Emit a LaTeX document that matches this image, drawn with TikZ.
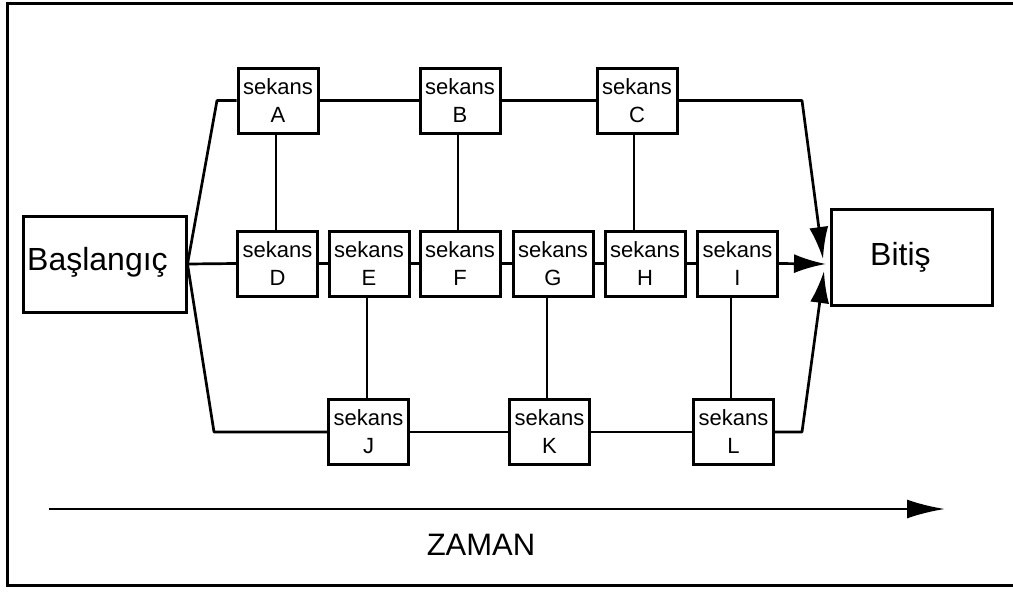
\documentclass[tikz,border=0pt]{standalone}
\usepackage{fontspec}
\setmainfont{Liberation Sans}
\usetikzlibrary{arrows.meta}
\begin{document}
\begin{tikzpicture}[x=1pt,y=-1pt,
  seq/.style={draw, line width=3pt, minimum width=80pt, minimum height=65pt, inner sep=0pt, align=center, font=\fontsize{22}{28}\selectfont},
  bigbox/.style={draw, line width=3pt, minimum width=162pt, minimum height=96pt, inner sep=0pt},
  bigtxt/.style={font=\fontsize{32}{36}\selectfont, inner sep=0pt},
  conn/.style={line width=2.7pt, line join=round},
  arr/.style={conn, -{Latex[length=32pt,width=19pt]}},
]
\useasboundingbox (0,0) rectangle (1013,592);
% frame
\draw[line width=3pt] (1016,3) -- (7,3) -- (7,585) -- (1016,585);

% boxes
\node[seq] (A) at (278,100.5) {sekans\\A};
\node[seq] (B) at (460,100.5) {sekans\\B};
\node[seq] (C) at (637,100.5) {sekans\\C};
\node[seq] (D) at (277.5,263.5) {sekans\\D};
\node[seq] (E) at (369,263.5) {sekans\\E};
\node[seq] (F) at (460,263.5) {sekans\\F};
\node[seq] (G) at (553,263.5) {sekans\\G};
\node[seq] (H) at (645,263.5) {sekans\\H};
\node[seq] (I) at (737.5,263.5) {sekans\\I};
\node[seq] (J) at (368.5,432) {sekans\\J};
\node[seq] (K) at (549.5,432) {sekans\\K};
\node[seq] (L) at (733.5,432) {sekans\\L};

\node[bigbox, minimum width=163pt] (bas) at (104.5,264) {};
\node[bigtxt, anchor=base west] (bastxt) at (27,270) {Başlangıç};
\node[bigbox, minimum width=161pt] (bit) at (911.5,257) {};
\node[bigtxt, anchor=base west] (bittxt) at (870,265) {Bitiş};

% helper coordinates
\coordinate (u0) at (217,100.5);
\coordinate (l0) at (214,432);
\coordinate (u1) at (802,100.5);
\coordinate (l1) at (802,432);
\coordinate (tC) at (823,259);
\coordinate (tI) at (826,264);
\coordinate (tL) at (824,271);

% start branches
\draw[conn] (bas.east) -- (u0) -- (A.west);
\draw[conn] (bas.east) -- (D.west);
\draw[conn] (bas.east) -- (l0) -- (J.west);

% rows
\draw[conn] (A.east) -- (B.west);
\draw[conn] (B.east) -- (C.west);
\draw[conn] (D.east) -- (E.west);
\draw[conn] (E.east) -- (F.west);
\draw[conn] (F.east) -- (G.west);
\draw[conn] (G.east) -- (H.west);
\draw[conn] (H.east) -- (I.west);
\draw[conn] (J.east) -- (K.west);
\draw[conn] (K.east) -- (L.west);

% verticals
\draw[conn] ([xshift=-2pt]A.south) -- ([xshift=-2pt]A.south |- D.north);
\draw[conn] ([xshift=-2pt]B.south) -- ([xshift=-2pt]B.south |- F.north);
\draw[conn] ([xshift=-3pt]C.south) -- ([xshift=-3pt]C.south |- H.north);
\draw[conn] ([xshift=-2pt]E.south) -- ([xshift=-2pt]E.south |- J.north);
\draw[conn] ([xshift=-2.5pt]K.north) -- ([xshift=-2.5pt]K.north |- G.south);
\draw[conn] ([xshift=-2.5pt]L.north) -- ([xshift=-2.5pt]L.north |- I.south);

% arrows to end
\draw[arr] (C.east) -- (u1) -- (tC);
\draw[arr] (I.east) -- (tI);
\draw[arr] (L.east) -- (l1) -- (tL);

% time axis
\coordinate (t0) at (49,509);
\coordinate (t1) at (945,509);
\draw[line width=2.7pt, -{Latex[length=38pt,width=19pt]}] (t0) -- (t1);
\node[bigtxt, font=\fontsize{31}{36}\selectfont] (zaman) at (481,545) {ZAMAN};
\end{tikzpicture}
\end{document}
